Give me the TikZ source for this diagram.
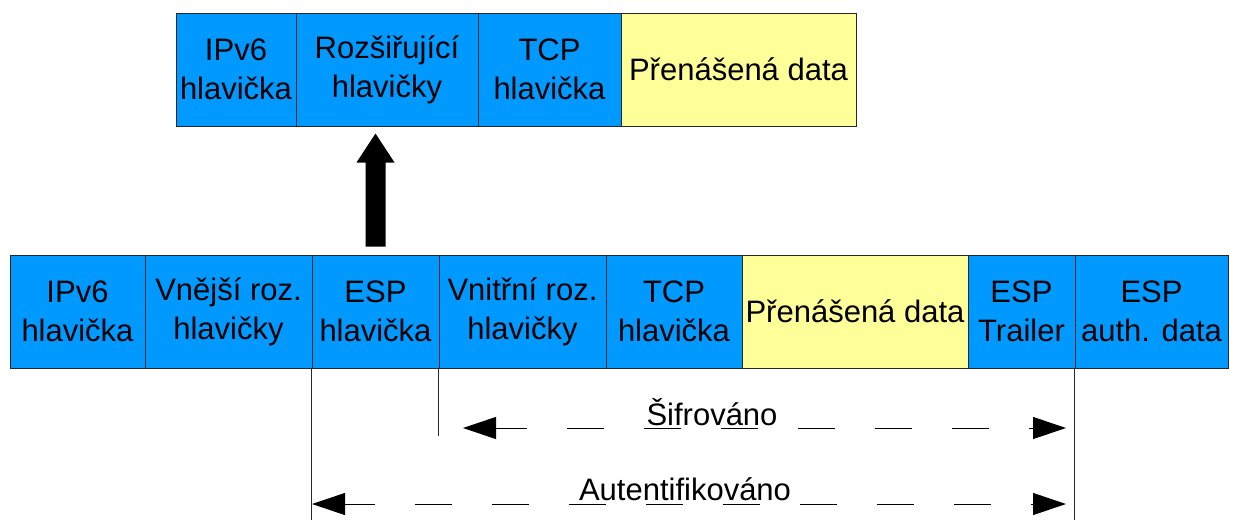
\documentclass[tikz,border=0pt]{standalone}
\usepackage{fontspec}
\setmainfont{Liberation Sans}
\usetikzlibrary{arrows.meta,calc}
\definecolor{hdrblue}{RGB}{0,153,255}
\definecolor{datayellow}{RGB}{255,255,153}
\definecolor{edge}{RGB}{40,40,40}
\begin{document}
\begin{tikzpicture}[x=1pt,y=-1pt,
  cell/.style={draw=edge, line width=1pt, minimum height=113pt, inner sep=0pt,
    align=center, font=\fontsize{31}{39}\selectfont},
  hdr/.style={cell, fill=hdrblue},
  payload/.style={cell, fill=datayellow},
  guide/.style={draw=edge, line width=1pt},
  span/.style={line width=1pt, dash pattern=on 37pt off 40pt,
    {Triangle[length=33pt,width=22pt]}-{Triangle[length=33pt,width=22pt]}},
  lbl/.style={font=\fontsize{31}{39}\selectfont, anchor=base, inner sep=0pt}
]
\useasboundingbox (0,0) rectangle (1239,520);

% plain IPv6 packet
\node[hdr, minimum width=120pt] (ip)   at (236,69.5)   {IPv6\\hlavička};
\node[hdr, minimum width=182pt] (ext)  at (387,69.5)   {Rozšiřující\\hlavičky};
\node[hdr, minimum width=143pt] (tcp)  at (549.5,69.5) {TCP\\hlavička};
\node[payload, minimum width=235pt] (data) at (738.5,69.5) {Přenášená data};

% ESP tunnel packet
\node[hdr, minimum width=135pt] (ip2)   at (77.5,311.5)   {IPv6\\hlavička};
\node[hdr, minimum width=167pt] (outer) at (228.5,311.5)  {Vnější roz.\\hlavičky};
\node[hdr, minimum width=127pt] (esp)   at (375.5,311.5)  {ESP\\hlavička};
\node[hdr, minimum width=167pt] (inner) at (522.5,311.5)  {Vnitřní roz.\\hlavičky};
\node[hdr, minimum width=136pt] (tcp2)  at (674,311.5)    {TCP\\hlavička};
\node[payload, minimum width=226pt] (data2) at (855,311.5) {Přenášená data};
\node[hdr, minimum width=107pt] (trl)   at (1021.5,311.5) {ESP\\Trailer};
\node[hdr, minimum width=153pt] (auth)  at (1151.5,311.5) {ESP\\auth. data};

% block arrow from the ESP header up to the extension headers
\coordinate (up0) at ($(esp.north)+(0,-8)$);
\coordinate (up1) at ($(esp.north |- ext.south)+(0,7)$);
\fill[black] ($(up0)+(-10,0)$) -- ($(up1)+(-10,29)$) -- ($(up1)+(-19,29)$)
  -- (up1) -- ($(up1)+(19,29)$) -- ($(up1)+(10,29)$) -- ($(up0)+(10,0)$) -- cycle;

% guide lines below the packet
\coordinate (bottomedge) at (0,520);
\coordinate (innerfoot) at (0,436);
\draw[guide] (esp.south west) -- (esp.south west |- bottomedge);
\draw[guide] (inner.south west) -- (inner.south west |- innerfoot);
\draw[guide] (auth.south west) -- (auth.south west |- bottomedge);

% encrypted and authenticated ranges
\coordinate (encL) at (463,428);
\coordinate (encR) at (1066,428);
\coordinate (autL) at (312,504);
\coordinate (autR) at (1066,504);
\draw[span, dash phase=6pt] (encL) -- (encR);
\draw[span, dash phase=7pt] (autL) -- (autR);
\node[lbl] (enc) at (712,425) {Šifrováno};
\node[lbl] (aut) at (685,500) {Autentifikováno};
\end{tikzpicture}
\end{document}
